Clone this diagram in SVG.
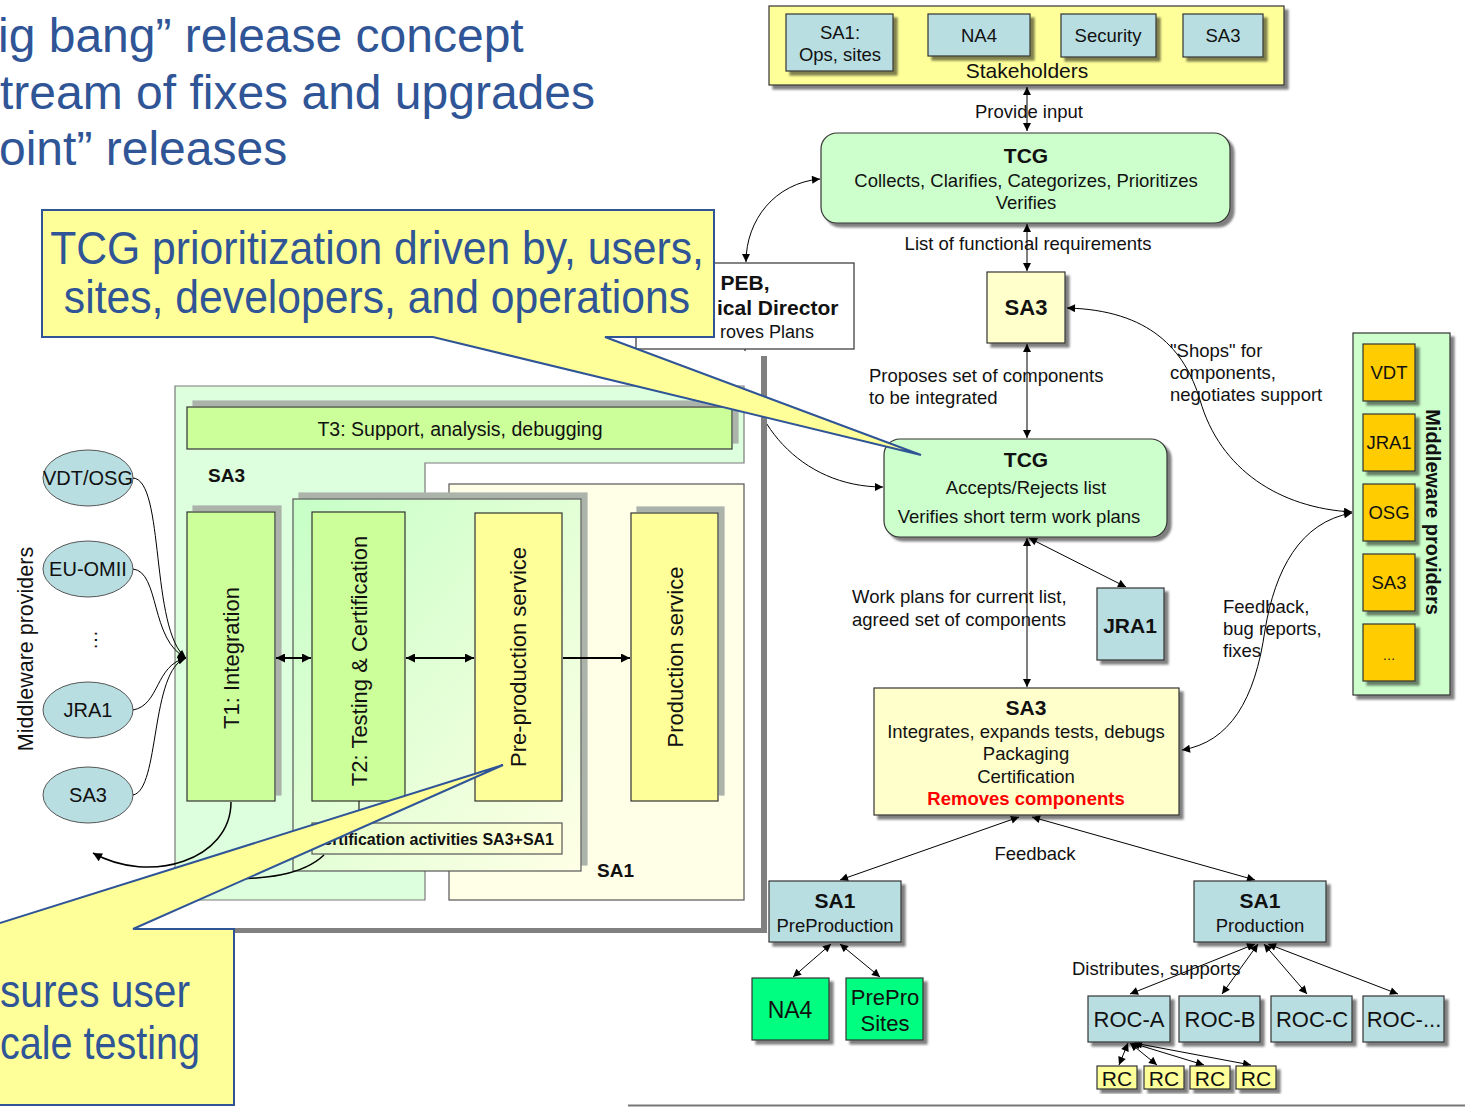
<svg xmlns="http://www.w3.org/2000/svg" width="1465" height="1107" viewBox="0 0 1465 1107">
<defs>
<style>
.t{font-family:"Liberation Sans",Arial,Helvetica,sans-serif;fill:#111}
.c{text-anchor:middle}
.s{font-size:18.5px}
.b{font-weight:bold}
.big{font-size:48px;fill:#2F5597}
.cl{font-size:46px;fill:#2F5597}
.ln{fill:none;stroke:#000;stroke-width:1}
.ln2{fill:none;stroke:#000;stroke-width:2}
.bx{stroke:#333;stroke-width:1.2}
.yel{fill:#FFFF99}
.pale{fill:#FFFFCC}
.blue{fill:#B8DEE2}
.grn{fill:#CCFFCC}
.org{fill:#FFCC00}
.sg{fill:#00FF80}
.lime{fill:#CCFF99}
.callout{fill:#FFFF99;stroke:#2F5597;stroke-width:2}
</style>
<marker id="a" viewBox="0 0 10 10" refX="10" refY="5" markerWidth="9" markerHeight="8" markerUnits="userSpaceOnUse" orient="auto-start-reverse"><path d="M0,0 L10,5 L0,10 z" fill="#000"/></marker>
<marker id="a2" viewBox="0 0 10 10" refX="10" refY="5" markerWidth="10" markerHeight="9" markerUnits="userSpaceOnUse" orient="auto-start-reverse"><path d="M0,0 L10,5 L0,10 z" fill="#000"/></marker>
<filter id="ds" x="-10%" y="-10%" width="130%" height="130%"><feDropShadow dx="4" dy="4" stdDeviation="1" flood-color="#000" flood-opacity="0.5"/></filter>
<filter id="ds2" x="-10%" y="-20%" width="130%" height="130%"><feDropShadow dx="6" dy="-6" stdDeviation="0" flood-color="#ABB3AB" flood-opacity="1"/></filter>
<linearGradient id="g2" x1="0" y1="0" x2="1" y2="1"><stop offset="0" stop-color="#C6FFC6"/><stop offset="1" stop-color="#FFFFE6"/></linearGradient>
<linearGradient id="gc" x1="0" y1="0" x2="1" y2="0"><stop offset="0" stop-color="#E6FFCC"/><stop offset="1" stop-color="#FFFFD8"/></linearGradient>
</defs>
<rect width="1465" height="1107" fill="#fff"/>

<g id="title-text">
<text class="t big" x="-2" y="52">ig bang” release concept</text>
<text class="t big" x="0" y="109">tream of fixes and upgrades</text>
<text class="t big" x="-1" y="165">oint” releases</text>
</g>

<g id="connectors">
<path class="ln" d="M1027,87 V131" marker-start="url(#a)" marker-end="url(#a)"/>
<path class="ln" d="M1027,224 V271" marker-start="url(#a)" marker-end="url(#a)"/>
<path class="ln" d="M1027,344 V438" marker-start="url(#a)" marker-end="url(#a)"/>
<path class="ln" d="M1027,538 V687" marker-start="url(#a)" marker-end="url(#a)"/>
<path class="ln" d="M1029,538 L1126,587" marker-start="url(#a)" marker-end="url(#a)"/>
<path class="ln" d="M746,262 C746,220 775,183 820,179" marker-start="url(#a)" marker-end="url(#a)"/>
<path class="ln" d="M745,349 C745,420 800,487 883,487" marker-end="url(#a)"/>
<path class="ln" d="M1067,308 C1150,310 1185,350 1200,400 C1220,470 1280,508 1352,512" marker-start="url(#a)" marker-end="url(#a)"/>
<path class="ln" d="M1352,513 C1300,522 1275,570 1265,630 C1255,700 1230,742 1182,750" marker-start="url(#a)" marker-end="url(#a)"/>
<path class="ln" d="M1019,817 L840,880" marker-start="url(#a)" marker-end="url(#a)"/>
<path class="ln" d="M1032,817 L1255,880" marker-start="url(#a)" marker-end="url(#a)"/>
<path class="ln" d="M831,944 L793,977" marker-start="url(#a)" marker-end="url(#a)"/>
<path class="ln" d="M840,944 L880,977" marker-start="url(#a)" marker-end="url(#a)"/>
<path class="ln" d="M1255,944 L1130,994" marker-start="url(#a)" marker-end="url(#a)"/>
<path class="ln" d="M1258,944 L1222,994" marker-start="url(#a)" marker-end="url(#a)"/>
<path class="ln" d="M1264,944 L1307,994" marker-start="url(#a)" marker-end="url(#a)"/>
<path class="ln" d="M1268,944 L1398,994" marker-start="url(#a)" marker-end="url(#a)"/>
<path class="ln" d="M1128,1043 L1119,1065" marker-start="url(#a)" marker-end="url(#a)"/>
<path class="ln" d="M1130,1043 L1157,1065" marker-start="url(#a)" marker-end="url(#a)"/>
<path class="ln" d="M1132,1043 L1204,1065" marker-start="url(#a)" marker-end="url(#a)"/>
<path class="ln" d="M1134,1043 L1251,1065" marker-start="url(#a)" marker-end="url(#a)"/>
<text class="t s c" x="1029" y="118">Provide input</text>
<text class="t s c" x="1028" y="250">List of functional requirements</text>
<text class="t s" x="869" y="382">Proposes set of components</text>
<text class="t s" x="869" y="404">to be integrated</text>
<text class="t s" x="1170" y="357">&quot;Shops&quot; for</text>
<text class="t s" x="1170" y="379">components,</text>
<text class="t s" x="1170" y="401">negotiates support</text>
<text class="t s" x="852" y="603">Work plans for current list,</text>
<text class="t s" x="852" y="626">agreed set of components</text>
<text class="t s" x="1223" y="613">Feedback,</text>
<text class="t s" x="1223" y="635">bug reports,</text>
<text class="t s" x="1223" y="657">fixes</text>
<text class="t s c" x="1035" y="860">Feedback</text>
<text class="t s" x="1072" y="975">Distributes, supports</text>
</g>

<g id="stakeholders">
<rect x="769" y="6" width="515" height="79" class="yel bx" filter="url(#ds)"/>
<rect x="786" y="14" width="107" height="57" class="blue bx" filter="url(#ds)"/>
<text class="t s c" x="840" y="39">SA1:</text>
<text class="t s c" x="840" y="61">Ops, sites</text>
<rect x="928" y="14" width="102" height="42" class="blue bx" filter="url(#ds)"/>
<text class="t s c" x="979" y="42">NA4</text>
<rect x="1061" y="14" width="95" height="43" class="blue bx" filter="url(#ds)"/>
<text class="t s c" x="1108" y="42">Security</text>
<rect x="1183" y="14" width="80" height="43" class="blue bx" filter="url(#ds)"/>
<text class="t s c" x="1223" y="42">SA3</text>
<text class="t c" x="1027" y="78" font-size="21">Stakeholders</text>
</g>

<g id="tcg1">
<rect x="821" y="133" width="409" height="90" rx="16" class="grn bx" filter="url(#ds)"/>
<text class="t c b" x="1026" y="163" font-size="21">TCG</text>
<text class="t s c" x="1026" y="187">Collects, Clarifies, Categorizes, Prioritizes</text>
<text class="t s c" x="1026" y="209">Verifies</text>
</g>

<g id="peb">
<rect x="636" y="263" width="218" height="86" fill="#fff" class="bx"/>
<text class="t c b" x="745" y="290" font-size="21">PEB,</text>
<text class="t b" x="717" y="315" font-size="21">ical Director</text>
<text class="t" x="720" y="338" font-size="18">roves Plans</text>
</g>

<g id="sa3-small">
<rect x="987" y="272" width="78" height="71" class="pale bx" filter="url(#ds)"/>
<text class="t c b" x="1026" y="315" font-size="22">SA3</text>
</g>

<g id="tcg2">
<rect x="884" y="439" width="283" height="98" rx="16" class="grn bx" filter="url(#ds)"/>
<text class="t c b" x="1026" y="467" font-size="21">TCG</text>
<text class="t s c" x="1026" y="494">Accepts/Rejects list</text>
<text class="t s c" x="1019" y="523">Verifies short term work plans</text>
</g>

<g id="jra1">
<rect x="1097" y="588" width="67" height="72" class="blue bx" filter="url(#ds)"/>
<text class="t c b" x="1130" y="633" font-size="21">JRA1</text>
</g>

<g id="mw-providers">
<rect x="1353" y="333" width="97" height="362" class="grn bx" filter="url(#ds)"/>
<rect x="1363" y="344" width="52" height="57" class="org bx" filter="url(#ds)"/>
<text class="t s c" x="1389" y="379">VDT</text>
<rect x="1363" y="414" width="52" height="57" class="org bx" filter="url(#ds)"/>
<text class="t s c" x="1389" y="449">JRA1</text>
<rect x="1363" y="484" width="52" height="57" class="org bx" filter="url(#ds)"/>
<text class="t s c" x="1389" y="519">OSG</text>
<rect x="1363" y="554" width="52" height="57" class="org bx" filter="url(#ds)"/>
<text class="t s c" x="1389" y="589">SA3</text>
<rect x="1363" y="624" width="52" height="57" class="org bx" filter="url(#ds)"/>
<text class="t c" x="1389" y="660" font-size="13" fill="#555">…</text>
<text class="t c b" transform="translate(1433,512) rotate(90)" dy="0.35em" font-size="20">Middleware providers</text>
</g>

<g id="sa3-main">
<rect x="874" y="688" width="305" height="127" class="pale bx" filter="url(#ds)"/>
<text class="t c b" x="1026" y="715" font-size="21">SA3</text>
<text class="t s c" x="1026" y="738">Integrates, expands tests, debugs</text>
<text class="t s c" x="1026" y="760">Packaging</text>
<text class="t s c" x="1026" y="783">Certification</text>
<text class="t s c b" x="1026" y="805" style="fill:#FF0000">Removes components</text>
</g>

<g id="sa1-pre">
<rect x="769" y="881" width="132" height="61" class="blue bx" filter="url(#ds)"/>
<text class="t c b" x="835" y="908" font-size="21">SA1</text>
<text class="t s c" x="835" y="932">PreProduction</text>
</g>
<g id="sa1-prod">
<rect x="1194" y="881" width="132" height="61" class="blue bx" filter="url(#ds)"/>
<text class="t c b" x="1260" y="908" font-size="21">SA1</text>
<text class="t s c" x="1260" y="932">Production</text>
</g>

<g id="na4">
<rect x="752" y="978" width="77" height="62" class="sg bx" filter="url(#ds)"/>
<text class="t c" x="790" y="1018" font-size="23">NA4</text>
</g>
<g id="prepro-sites">
<rect x="846" y="978" width="77" height="62" class="sg bx" filter="url(#ds)"/>
<text class="t c" x="885" y="1005" font-size="22">PrePro</text>
<text class="t c" x="885" y="1031" font-size="22">Sites</text>
</g>

<g id="roc-a"><rect x="1088" y="996" width="82" height="46" class="blue bx" filter="url(#ds)"/><text class="t c" x="1129" y="1027" font-size="22">ROC-A</text></g>
<g id="roc-b"><rect x="1179" y="996" width="81" height="46" class="blue bx" filter="url(#ds)"/><text class="t c" x="1220" y="1027" font-size="22">ROC-B</text></g>
<g id="roc-c"><rect x="1271" y="996" width="81" height="46" class="blue bx" filter="url(#ds)"/><text class="t c" x="1312" y="1027" font-size="22">ROC-C</text></g>
<g id="roc-etc"><rect x="1363" y="996" width="81" height="46" class="blue bx" filter="url(#ds)"/><text class="t c" x="1404" y="1027" font-size="22">ROC-...</text></g>

<g id="rc1"><rect x="1097" y="1066" width="40" height="23" class="yel bx" filter="url(#ds)"/><text class="t c" x="1117" y="1086" font-size="21">RC</text></g>
<g id="rc2"><rect x="1144" y="1066" width="40" height="23" class="yel bx" filter="url(#ds)"/><text class="t c" x="1164" y="1086" font-size="21">RC</text></g>
<g id="rc3"><rect x="1190" y="1066" width="40" height="23" class="yel bx" filter="url(#ds)"/><text class="t c" x="1210" y="1086" font-size="21">RC</text></g>
<g id="rc4"><rect x="1236" y="1066" width="40" height="23" class="yel bx" filter="url(#ds)"/><text class="t c" x="1256" y="1086" font-size="21">RC</text></g>

<line x1="628" y1="1105.5" x2="1465" y2="1105.5" stroke="#777" stroke-width="2"/>

<g id="inset">
<rect x="-5" y="356" width="772" height="577" fill="#808080"/>
<rect x="-10" y="351" width="771" height="577" fill="#fff"/>
<path d="M175,386 H744 V463 H425 V900 H175 Z" fill="#DDFFDD" stroke="#7a7a7a" stroke-width="1.2"/>
<rect x="449" y="484" width="295" height="416" fill="#FFFFE8" stroke="#555" stroke-width="1.2"/>
<g id="t3"><rect x="187" y="407" width="545" height="42" class="lime bx" filter="url(#ds2)"/>
<text class="t c" x="460" y="436" font-size="19.5">T3: Support, analysis, debugging</text></g>
<text class="t b" x="208" y="482" font-size="19">SA3</text>
<text class="t b" x="597" y="877" font-size="19">SA1</text>
<rect x="293" y="499" width="288" height="372" fill="url(#g2)" stroke="#555" stroke-width="1.2" filter="url(#ds2)"/>
<g id="t1"><rect x="187" y="512" width="88" height="289" class="lime bx" filter="url(#ds2)"/>
<text class="t c" transform="translate(231,658) rotate(-90)" dy="0.35em" font-size="22">T1: Integration</text></g>
<g id="t2"><rect x="312" y="512" width="93" height="289" class="lime bx"/>
<text class="t c" transform="translate(359,661) rotate(-90)" dy="0.35em" font-size="22">T2: Testing &amp; Certification</text></g>
<g id="preprod"><rect x="475" y="513" width="87" height="288" class="yel bx"/>
<text class="t c" transform="translate(518,657) rotate(-90)" dy="0.35em" font-size="22">Pre-production service</text></g>
<g id="prod"><rect x="631" y="513" width="87" height="288" class="yel bx" filter="url(#ds2)"/>
<text class="t c" transform="translate(675,657) rotate(-90)" dy="0.35em" font-size="22">Production service</text></g>
<g id="cert"><rect x="312" y="823" width="250" height="31" fill="url(#gc)" stroke="#555" stroke-width="1.2"/>
<text class="t b" x="554" y="845" font-size="16" text-anchor="end">Certification activities SA3+SA1</text></g>
<g id="mw-left">
<ellipse cx="88" cy="478" rx="45" ry="28" class="blue" stroke="#555"/>
<text class="t c" x="88" y="485" font-size="20">VDT/OSG</text>
<ellipse cx="88" cy="569" rx="45" ry="28" class="blue" stroke="#555"/>
<text class="t c" x="88" y="576" font-size="20">EU-OMII</text>
<text class="t c" transform="translate(91,640) rotate(-90)" dy="0.3em" font-size="20">…</text>
<ellipse cx="88" cy="710" rx="45" ry="28" class="blue" stroke="#555"/>
<text class="t c" x="88" y="717" font-size="20">JRA1</text>
<ellipse cx="88" cy="795" rx="45" ry="28" class="blue" stroke="#555"/>
<text class="t c" x="88" y="802" font-size="20">SA3</text>
<text class="t c" transform="translate(25,649) rotate(-90)" dy="0.35em" font-size="21.5">Middleware providers</text>
</g>
<g id="inset-connectors">
<path class="ln" d="M133,478 C165,480 150,630 186,658" marker-end="url(#a)"/>
<path class="ln" d="M133,569 C160,572 150,640 186,658" marker-end="url(#a)"/>
<path class="ln" d="M133,710 C160,705 155,665 186,658" marker-end="url(#a)"/>
<path class="ln" d="M133,795 C160,790 150,670 186,658" marker-end="url(#a)"/>
<path class="ln2" d="M276,658 H311" marker-start="url(#a2)" marker-end="url(#a2)"/>
<path class="ln2" d="M406,658 H474" marker-start="url(#a2)" marker-end="url(#a2)"/>
<path class="ln2" d="M563,658 H630" marker-end="url(#a2)"/>
<path class="ln" d="M359,801 V823"/>
<path class="ln" style="stroke-width:1.5" d="M231,802 C231,860 150,885 93,853" marker-end="url(#a2)"/>
<path class="ln" style="stroke-width:1.5" d="M324,855 C305,873 270,882 200,878"/>
</g>
</g>

<g id="callout-tcg">
<path class="callout" d="M42,210 H714 V337 H605 L921,455 L433,337 H42 Z"/>
<text class="t cl c" transform="translate(377,264) scale(0.928,1)">TCG prioritization driven by, users,</text>
<text class="t cl c" transform="translate(377,313) scale(0.928,1)">sites, developers, and operations</text>
</g>
<g id="callout-testing">
<path class="callout" d="M-40,929 H-19 L503,765 L133,929 H234 V1105 H-40 Z"/>
<text class="t cl" transform="translate(0,1007) scale(0.885,1)">sures user</text>
<text class="t cl" transform="translate(0,1059) scale(0.86,1)">cale testing</text>
</g>
</svg>
